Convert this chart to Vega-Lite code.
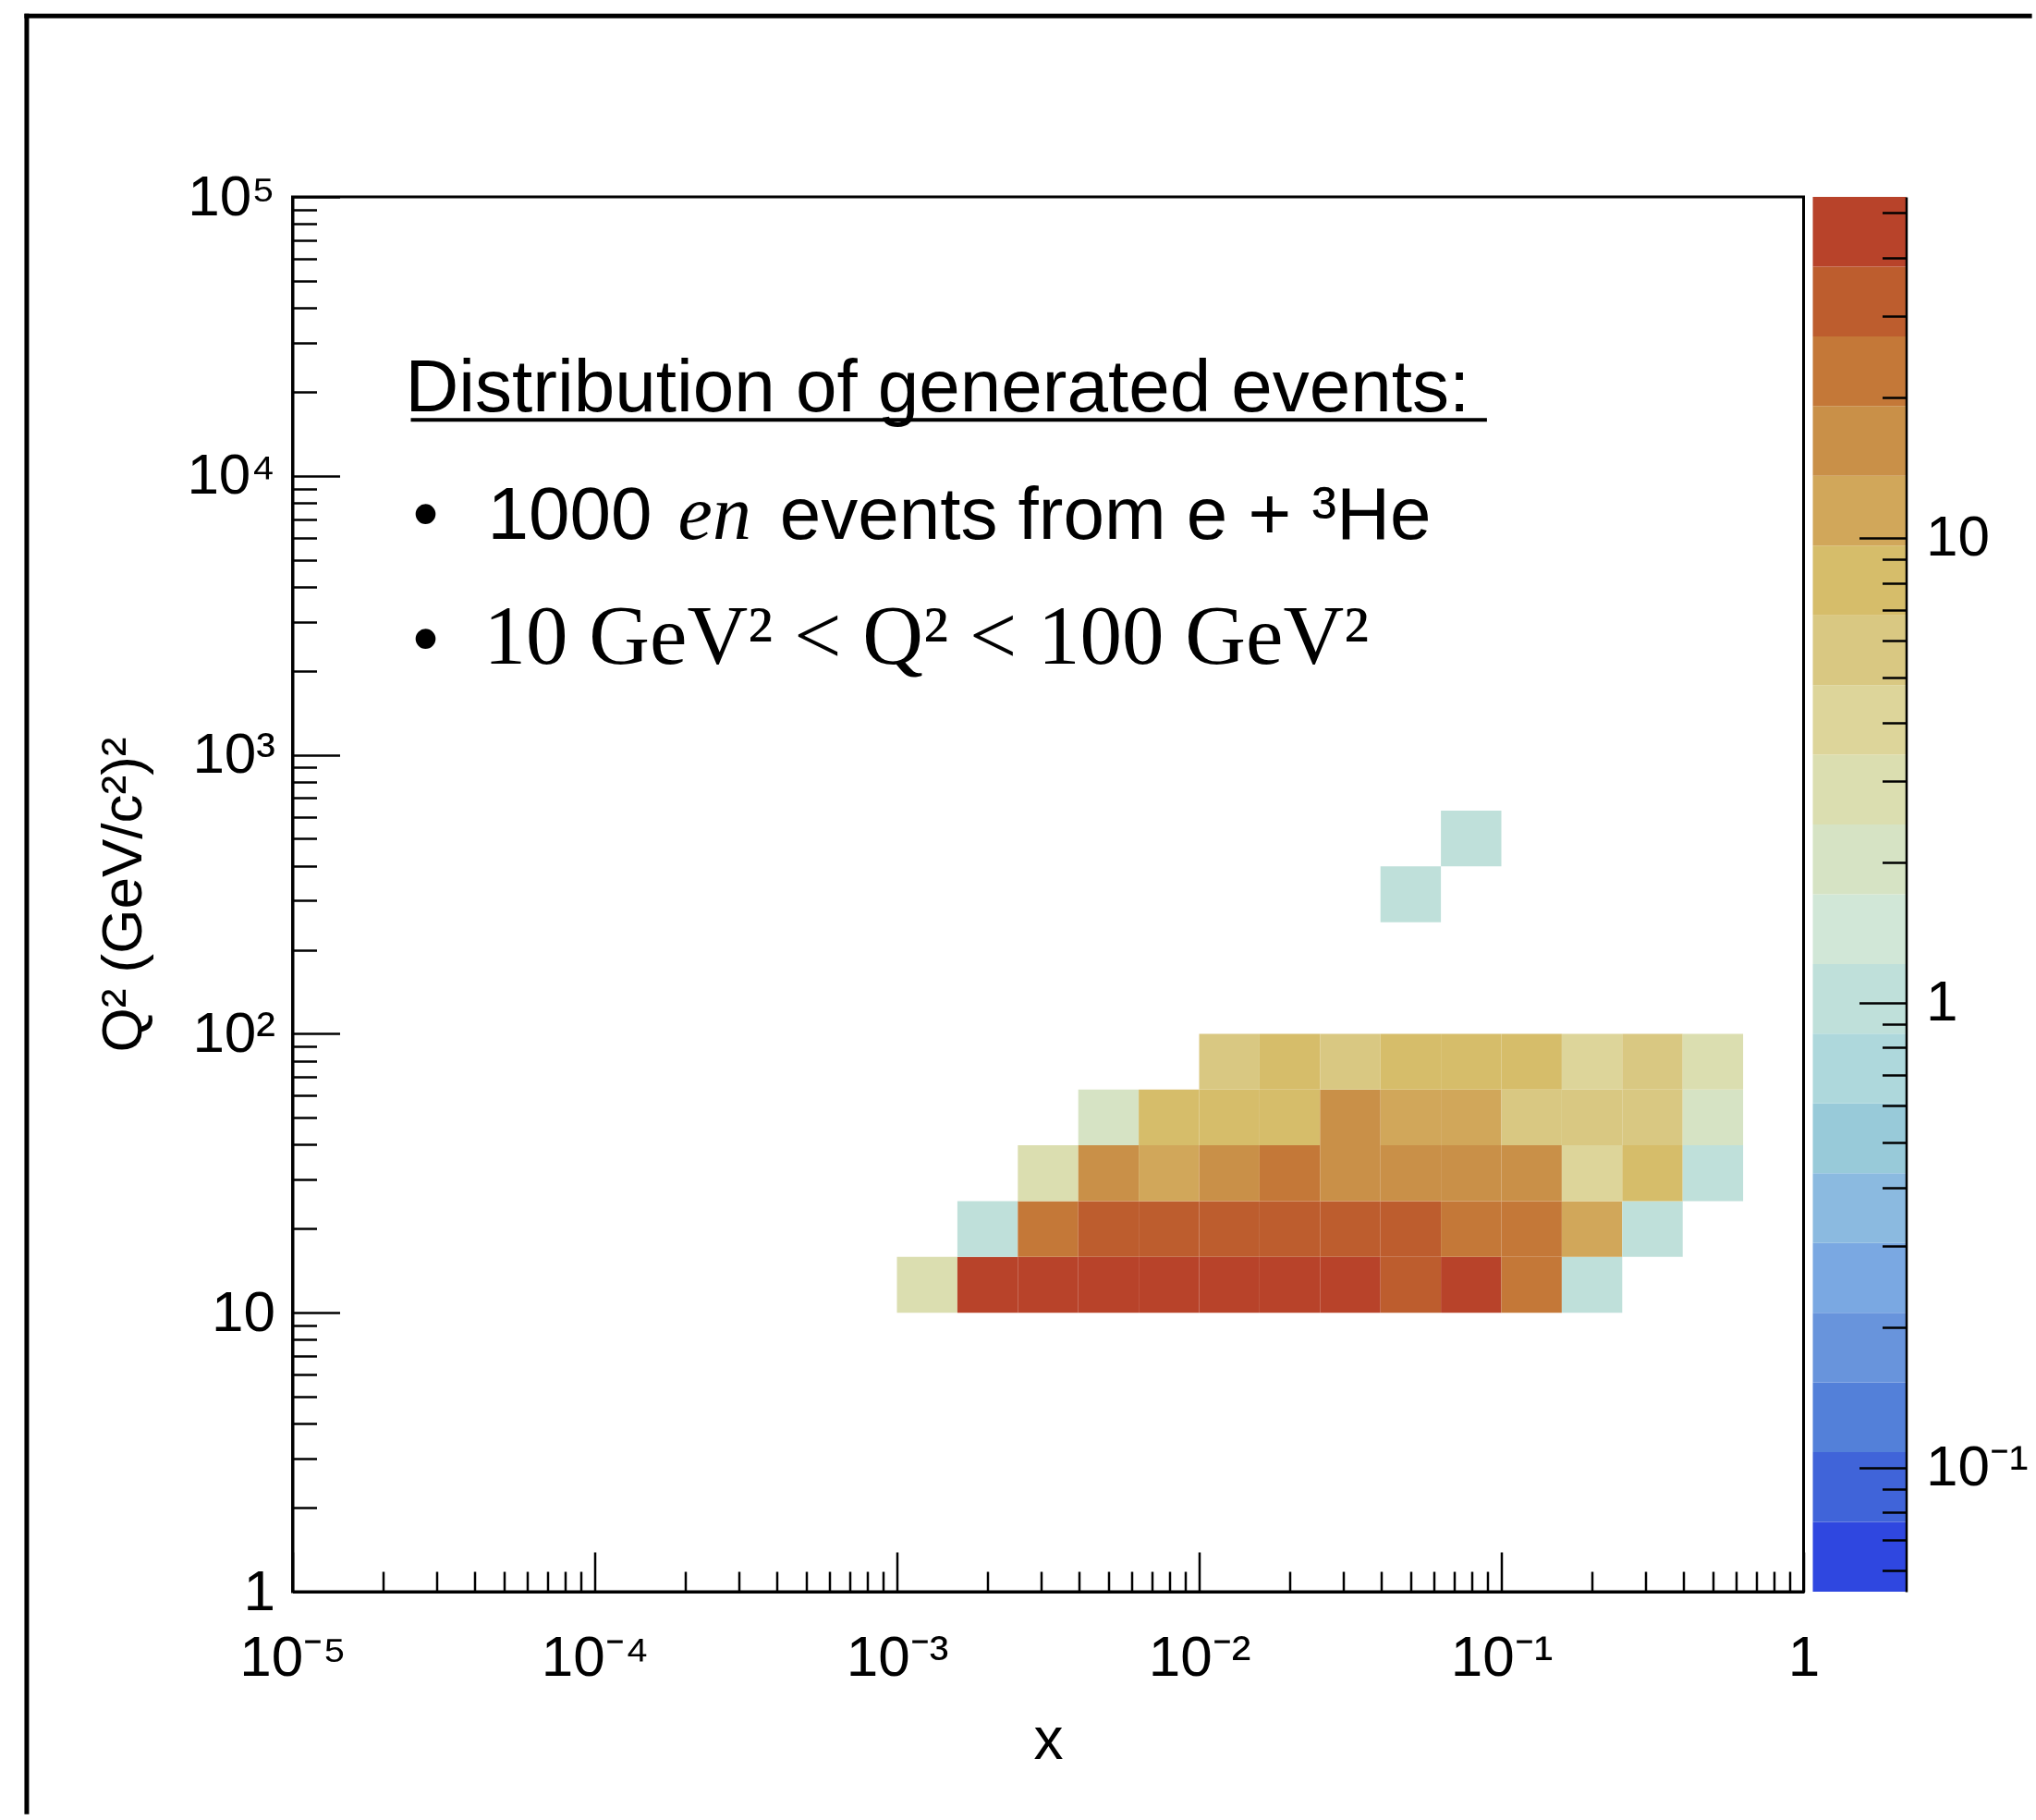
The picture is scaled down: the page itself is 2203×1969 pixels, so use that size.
{
  "$schema": "https://vega.github.io/schema/vega-lite/v6.json",
  "usermeta": {"embedOptions": {"actions": false}},
  "background": "white",
  "padding": {"left": 23.5, "top": 12, "right": 0, "bottom": 0},
  "bounds": "flush",
  "spacing": 10,
  "resolve": {"scale": {"color": "independent"}},
  "hconcat": [
    {
      "width": 1635,
      "height": 1509,
      "view": {"stroke": "black", "strokeWidth": 3},
      "layer": [
        {
          "data": {"values": [
            {"x0":0.001,"x1":0.0015849,"y0":10,"y1":15.849,"n":3},
            {"x0":0.0015849,"x1":0.0025119,"y0":10,"y1":15.849,"n":48},
            {"x0":0.0025119,"x1":0.0039811,"y0":10,"y1":15.849,"n":51},
            {"x0":0.0039811,"x1":0.0063096,"y0":10,"y1":15.849,"n":52},
            {"x0":0.0063096,"x1":0.01,"y0":10,"y1":15.849,"n":50},
            {"x0":0.01,"x1":0.015849,"y0":10,"y1":15.849,"n":49},
            {"x0":0.015849,"x1":0.025119,"y0":10,"y1":15.849,"n":51},
            {"x0":0.025119,"x1":0.039811,"y0":10,"y1":15.849,"n":47},
            {"x0":0.039811,"x1":0.063096,"y0":10,"y1":15.849,"n":35},
            {"x0":0.063096,"x1":0.1,"y0":10,"y1":15.849,"n":40},
            {"x0":0.1,"x1":0.15849,"y0":10,"y1":15.849,"n":22},
            {"x0":0.15849,"x1":0.25119,"y0":10,"y1":15.849,"n":1},
            {"x0":0.0015849,"x1":0.0025119,"y0":15.849,"y1":25.119,"n":1},
            {"x0":0.0025119,"x1":0.0039811,"y0":15.849,"y1":25.119,"n":21},
            {"x0":0.0039811,"x1":0.0063096,"y0":15.849,"y1":25.119,"n":33},
            {"x0":0.0063096,"x1":0.01,"y0":15.849,"y1":25.119,"n":36},
            {"x0":0.01,"x1":0.015849,"y0":15.849,"y1":25.119,"n":34},
            {"x0":0.015849,"x1":0.025119,"y0":15.849,"y1":25.119,"n":31},
            {"x0":0.025119,"x1":0.039811,"y0":15.849,"y1":25.119,"n":30},
            {"x0":0.039811,"x1":0.063096,"y0":15.849,"y1":25.119,"n":29},
            {"x0":0.063096,"x1":0.1,"y0":15.849,"y1":25.119,"n":24},
            {"x0":0.1,"x1":0.15849,"y0":15.849,"y1":25.119,"n":21},
            {"x0":0.15849,"x1":0.25119,"y0":15.849,"y1":25.119,"n":11},
            {"x0":0.25119,"x1":0.39811,"y0":15.849,"y1":25.119,"n":1},
            {"x0":0.0025119,"x1":0.0039811,"y0":25.119,"y1":39.811,"n":3},
            {"x0":0.0039811,"x1":0.0063096,"y0":25.119,"y1":39.811,"n":15},
            {"x0":0.0063096,"x1":0.01,"y0":25.119,"y1":39.811,"n":12},
            {"x0":0.01,"x1":0.015849,"y0":25.119,"y1":39.811,"n":16},
            {"x0":0.015849,"x1":0.025119,"y0":25.119,"y1":39.811,"n":20},
            {"x0":0.025119,"x1":0.039811,"y0":25.119,"y1":39.811,"n":18},
            {"x0":0.039811,"x1":0.063096,"y0":25.119,"y1":39.811,"n":17},
            {"x0":0.063096,"x1":0.1,"y0":25.119,"y1":39.811,"n":16},
            {"x0":0.1,"x1":0.15849,"y0":25.119,"y1":39.811,"n":14},
            {"x0":0.15849,"x1":0.25119,"y0":25.119,"y1":39.811,"n":4},
            {"x0":0.25119,"x1":0.39811,"y0":25.119,"y1":39.811,"n":8},
            {"x0":0.39811,"x1":0.63096,"y0":25.119,"y1":39.811,"n":1},
            {"x0":0.0039811,"x1":0.0063096,"y0":39.811,"y1":63.096,"n":2},
            {"x0":0.0063096,"x1":0.01,"y0":39.811,"y1":63.096,"n":8},
            {"x0":0.01,"x1":0.015849,"y0":39.811,"y1":63.096,"n":9},
            {"x0":0.015849,"x1":0.025119,"y0":39.811,"y1":63.096,"n":7},
            {"x0":0.025119,"x1":0.039811,"y0":39.811,"y1":63.096,"n":14},
            {"x0":0.039811,"x1":0.063096,"y0":39.811,"y1":63.096,"n":11},
            {"x0":0.063096,"x1":0.1,"y0":39.811,"y1":63.096,"n":10},
            {"x0":0.1,"x1":0.15849,"y0":39.811,"y1":63.096,"n":6},
            {"x0":0.15849,"x1":0.25119,"y0":39.811,"y1":63.096,"n":5},
            {"x0":0.25119,"x1":0.39811,"y0":39.811,"y1":63.096,"n":5},
            {"x0":0.39811,"x1":0.63096,"y0":39.811,"y1":63.096,"n":2},
            {"x0":0.01,"x1":0.015849,"y0":63.096,"y1":100,"n":5},
            {"x0":0.015849,"x1":0.025119,"y0":63.096,"y1":100,"n":7},
            {"x0":0.025119,"x1":0.039811,"y0":63.096,"y1":100,"n":6},
            {"x0":0.039811,"x1":0.063096,"y0":63.096,"y1":100,"n":8},
            {"x0":0.063096,"x1":0.1,"y0":63.096,"y1":100,"n":7},
            {"x0":0.1,"x1":0.15849,"y0":63.096,"y1":100,"n":9},
            {"x0":0.15849,"x1":0.25119,"y0":63.096,"y1":100,"n":4},
            {"x0":0.25119,"x1":0.39811,"y0":63.096,"y1":100,"n":5},
            {"x0":0.39811,"x1":0.63096,"y0":63.096,"y1":100,"n":3},
            {"x0":0.039811,"x1":0.063096,"y0":251.19,"y1":398.11,"n":1},
            {"x0":0.063096,"x1":0.1,"y0":398.11,"y1":630.96,"n":1}
          ]},
          "mark": {"type": "rect"},
          "encoding": {
            "x": {
              "field": "x0", "type": "quantitative",
              "scale": {"type": "log", "domain": [0.00001, 1], "nice": false},
              "axis": {
                "title": "x",
                "zindex": 1,
                "values": [0.00001,0.00002,0.00003,0.00004,0.00005,0.00006,0.00007,0.00008,0.00009,0.0001,0.0002,0.0003,0.0004,0.0005,0.0006,0.0007,0.0008,0.0009,0.001,0.002,0.003,0.004,0.005,0.006,0.007,0.008,0.009,0.01,0.02,0.03,0.04,0.05,0.06,0.07,0.08,0.09,0.1,0.2,0.3,0.4,0.5,0.6,0.7,0.8,0.9,1],
                "labelExpr": "datum.value == 0.00001 ? '10⁻⁵' : datum.value == 0.0001 ? '10⁻⁴' : datum.value == 0.001 ? '10⁻³' : datum.value == 0.01 ? '10⁻²' : datum.value == 0.1 ? '10⁻¹' : datum.value == 1 ? '1' : ''",
                "tickSize": {"condition": {"test": "datum.value == 0.00001 || datum.value == 0.0001 || datum.value == 0.001 || datum.value == 0.01 || datum.value == 0.1 || datum.value == 1", "value": -43}, "value": -22},
                "labelPadding": 84,
                "titleFontSize": 64,
                "titlePadding": 6
              }
            },
            "x2": {"field": "x1"},
            "y": {
              "field": "y0", "type": "quantitative",
              "scale": {"type": "log", "domain": [1, 100000], "nice": false},
              "axis": {
                "title": "Q² (GeV/c²)²",
                "zindex": 1,
                "values": [1,2,3,4,5,6,7,8,9,10,20,30,40,50,60,70,80,90,100,200,300,400,500,600,700,800,900,1000,2000,3000,4000,5000,6000,7000,8000,9000,10000,20000,30000,40000,50000,60000,70000,80000,90000,100000],
                "labelExpr": "datum.value == 1 ? '1' : datum.value == 10 ? '10' : datum.value == 100 ? '10²' : datum.value == 1000 ? '10³' : datum.value == 10000 ? '10⁴' : datum.value == 100000 ? '10⁵' : ''",
                "tickSize": {"condition": {"test": "datum.value == 1 || datum.value == 10 || datum.value == 100 || datum.value == 1000 || datum.value == 10000 || datum.value == 100000", "value": -51}, "value": -26},
                "labelPadding": 70,
                "titlePadding": 36
              }
            },
            "y2": {"field": "y1"},
            "color": {
              "field": "n", "type": "quantitative",
              "scale": {"type": "threshold",
                "domain": [0.0764,0.10795,0.1525,0.2154,0.30427,0.42977,0.60703,0.85743,1.2111,1.7107,2.4164,3.4132,4.8211,6.8098,9.619,13.587,19.191,27.107,38.289],
                "range": ["#2F47E0","#4064D9","#5380D9","#6894DC","#7AA8E2","#8BBAE0","#98CAD9","#AED8DC","#BFE0DA","#D1E7D7","#D6E3C4","#DBDEB0","#DDD59A","#D9C882","#D6BD6A","#D1A75A","#C99048","#C47838","#BD5D2E","#B8432A"]},
              "legend": null
            }
          }
        },
        {
          "data": {"values": [
            {"tx": 2.361e-5, "ty": 16995, "label": "Distribution of generated events:"},
            {"tx": 2.498e-5, "ty": 5930, "label": "•"},
            {"tx": 4.419e-5, "ty": 5930, "label": "1000"},
            {"tx": 4.094e-4, "ty": 5930, "label": "events from e + ³He"},
            {"tx": 2.498e-5, "ty": 2118, "label": "•"}
          ]},
          "mark": {"type": "text", "font": "Liberation Sans", "fontSize": 80, "align": "left", "baseline": "alphabetic", "color": "black"},
          "encoding": {
            "x": {"field": "tx", "type": "quantitative", "scale": {"type": "log", "domain": [0.00001, 1], "nice": false}},
            "y": {"field": "ty", "type": "quantitative", "scale": {"type": "log", "domain": [1, 100000], "nice": false}},
            "text": {"field": "label"}
          }
        },
        {
          "data": {"values": [
            {"tx": 1.886e-4, "ty": 5930, "label": "en"}
          ]},
          "mark": {"type": "text", "font": "Liberation Serif", "fontStyle": "italic", "fontSize": 84, "align": "left", "baseline": "alphabetic", "color": "black"},
          "encoding": {
            "x": {"field": "tx", "type": "quantitative", "scale": {"type": "log", "domain": [0.00001, 1], "nice": false}},
            "y": {"field": "ty", "type": "quantitative", "scale": {"type": "log", "domain": [1, 100000], "nice": false}},
            "text": {"field": "label"}
          }
        },
        {
          "data": {"values": [
            {"tx": 4.297e-5, "ty": 2118, "label": "10 GeV² < Q² < 100 GeV²"}
          ]},
          "mark": {"type": "text", "font": "Liberation Serif", "fontSize": 91, "align": "left", "baseline": "alphabetic", "color": "black"},
          "encoding": {
            "x": {"field": "tx", "type": "quantitative", "scale": {"type": "log", "domain": [0.00001, 1], "nice": false}},
            "y": {"field": "ty", "type": "quantitative", "scale": {"type": "log", "domain": [1, 100000], "nice": false}},
            "text": {"field": "label"}
          }
        },
        {
          "data": {"values": [
            {"ux": 2.463e-5, "ux2": 0.0896, "uy": 15868}
          ]},
          "mark": {"type": "rule", "color": "black", "strokeWidth": 4},
          "encoding": {
            "x": {"field": "ux", "type": "quantitative", "scale": {"type": "log", "domain": [0.00001, 1], "nice": false}},
            "x2": {"field": "ux2"},
            "y": {"field": "uy", "type": "quantitative", "scale": {"type": "log", "domain": [1, 100000], "nice": false}}
          }
        },
        {
          "data": {"values": [
            {"fx": 1.32e-6, "fx2": 1.32e-6, "fy": 445200, "fy2": 0.1624},
            {"fx": 1.32e-6, "fx2": 5.598, "fy": 445200, "fy2": 445200}
          ]},
          "mark": {"type": "rule", "color": "black", "strokeWidth": 5, "strokeCap": "square"},
          "encoding": {
            "x": {"field": "fx", "type": "quantitative", "scale": {"type": "log", "domain": [0.00001, 1], "nice": false}},
            "x2": {"field": "fx2"},
            "y": {"field": "fy", "type": "quantitative", "scale": {"type": "log", "domain": [1, 100000], "nice": false}},
            "y2": {"field": "fy2"}
          }
        }
      ]
    },
    {
      "width": 101,
      "height": 1509,
      "view": {"stroke": null},
      "data": {"values": [
        {"bar": "z", "lo": 0.054088, "hi": 0.0764, "mid": 0.06428},
        {"bar": "z", "lo": 0.0764, "hi": 0.10795, "mid": 0.09082},
        {"bar": "z", "lo": 0.10795, "hi": 0.1525, "mid": 0.12832},
        {"bar": "z", "lo": 0.1525, "hi": 0.2154, "mid": 0.18125},
        {"bar": "z", "lo": 0.2154, "hi": 0.30427, "mid": 0.25603},
        {"bar": "z", "lo": 0.30427, "hi": 0.42977, "mid": 0.36162},
        {"bar": "z", "lo": 0.42977, "hi": 0.60703, "mid": 0.51077},
        {"bar": "z", "lo": 0.60703, "hi": 0.85743, "mid": 0.72161},
        {"bar": "z", "lo": 0.85743, "hi": 1.2111, "mid": 1.0191},
        {"bar": "z", "lo": 1.2111, "hi": 1.7107, "mid": 1.4394},
        {"bar": "z", "lo": 1.7107, "hi": 2.4164, "mid": 2.0331},
        {"bar": "z", "lo": 2.4164, "hi": 3.4132, "mid": 2.8721},
        {"bar": "z", "lo": 3.4132, "hi": 4.8211, "mid": 4.057},
        {"bar": "z", "lo": 4.8211, "hi": 6.8098, "mid": 5.7305},
        {"bar": "z", "lo": 6.8098, "hi": 9.619, "mid": 8.0946},
        {"bar": "z", "lo": 9.619, "hi": 13.587, "mid": 11.434},
        {"bar": "z", "lo": 13.587, "hi": 19.191, "mid": 16.152},
        {"bar": "z", "lo": 19.191, "hi": 27.107, "mid": 22.815},
        {"bar": "z", "lo": 27.107, "hi": 38.289, "mid": 32.227},
        {"bar": "z", "lo": 38.289, "hi": 54.09, "mid": 45.52}
      ]},
      "mark": {"type": "rect"},
      "encoding": {
        "x": {"field": "bar", "type": "nominal", "scale": {"paddingInner": 0, "paddingOuter": 0}, "axis": null},
        "y": {
          "field": "lo", "type": "quantitative",
          "scale": {"type": "log", "domain": [0.054088, 54.09], "nice": false},
          "axis": {
            "orient": "right",
            "title": null,
            "zindex": 2,
            "domain": true,
            "ticks": true,
            "values": [0.06,0.07,0.08,0.09,0.1,0.2,0.3,0.4,0.5,0.6,0.7,0.8,0.9,1,2,3,4,5,6,7,8,9,10,20,30,40,50],
            "labelExpr": "datum.value == 0.1 ? '10⁻¹' : datum.value == 1 ? '1' : datum.value == 10 ? '10' : ''",
            "tickSize": {"condition": {"test": "datum.value == 0.1 || datum.value == 1 || datum.value == 10", "value": -51}, "value": -26},
            "labelPadding": 72,
            "domainWidth": 2.5
          }
        },
        "y2": {"field": "hi"},
        "color": {
          "field": "mid", "type": "quantitative",
          "scale": {"type": "threshold",
            "domain": [0.0764,0.10795,0.1525,0.2154,0.30427,0.42977,0.60703,0.85743,1.2111,1.7107,2.4164,3.4132,4.8211,6.8098,9.619,13.587,19.191,27.107,38.289],
            "range": ["#2F47E0","#4064D9","#5380D9","#6894DC","#7AA8E2","#8BBAE0","#98CAD9","#AED8DC","#BFE0DA","#D1E7D7","#D6E3C4","#DBDEB0","#DDD59A","#D9C882","#D6BD6A","#D1A75A","#C99048","#C47838","#BD5D2E","#B8432A"]},
          "legend": null
        }
      }
    }
  ],
  "config": {
    "font": "Liberation Sans",
    "axis": {
      "grid": false,
      "domainColor": "black",
      "domainWidth": 3,
      "tickColor": "black",
      "tickWidth": 2.5,
      "labelColor": "black",
      "titleColor": "black",
      "labelFont": "Liberation Sans",
      "titleFont": "Liberation Sans",
      "titleFontWeight": "normal",
      "labelFontSize": 62,
      "titleFontSize": 62,
      "labelFlush": false,
      "labelOverlap": false,
      "labelBound": false
    }
  }
}
